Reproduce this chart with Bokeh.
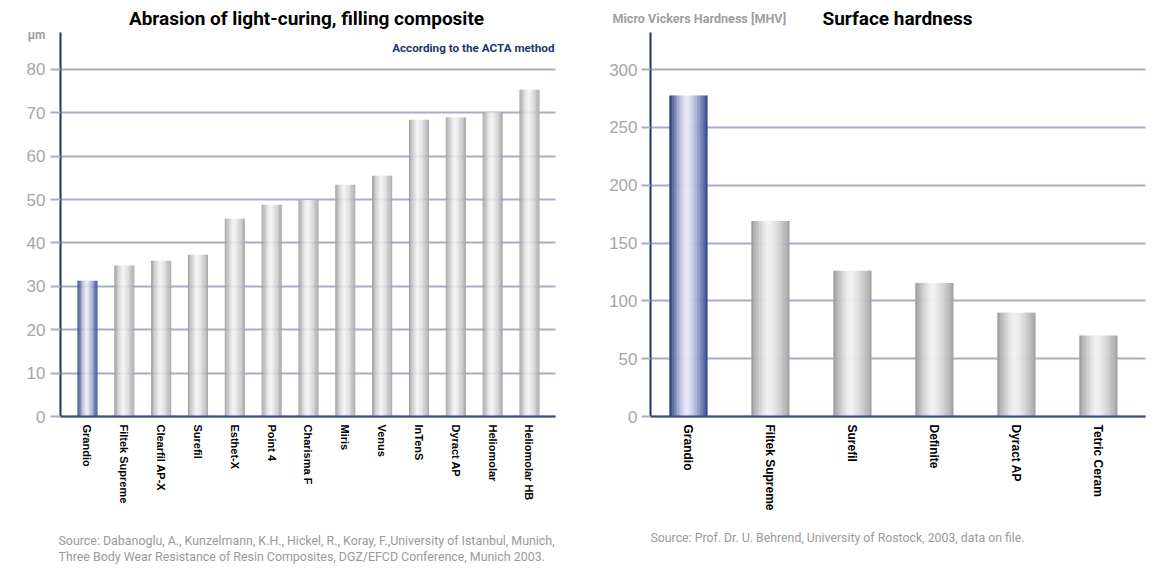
from bokeh.plotting import figure
from bokeh.models import Range1d, FixedTicker, Label, ColumnDataSource
from bokeh.layouts import row
from bokeh.embed import file_html
from bokeh.resources import INLINE

# ---------------- data ----------------
abrasion_names = ["Grandio", "Filtek Supreme", "Clearfil AP-X", "Surefil", "Esthet-X",
                  "Point 4", "Charisma F", "Miris", "Venus", "InTenS", "Dyract AP",
                  "Heliomolar", "Heliomolar HB"]
abrasion_values = [31.3, 34.8, 35.9, 37.3, 45.6, 48.8, 49.9, 53.4, 55.5, 68.4, 68.9, 70.1, 75.3]
abrasion_ticks = [0, 10, 20, 30, 40, 50, 60, 70, 80]

hardness_names = ["Grandio", "Filtek Supreme", "Surefil", "Definite", "Dyract AP", "Tetric Ceram"]
hardness_values = [277.5, 169.0, 126.0, 115.5, 89.8, 70.0]
hardness_ticks = [0, 50, 100, 150, 200, 250, 300]

# ---------------- style ----------------
COND = "Roboto"
SANS = "Liberation Sans"
GRID = "#aaacc8"
NAVY = "#1c3370"
TICKGRAY = "#a6a6a6"
N_STRIPES = 24
HEIGHT = 565
BASE_PX = 416      # pixel row of value 0
AXIS_TOP_PX = 32   # pixel row of top of value axis


def mix(c1, c2, t):
    a = [int(c1[i:i + 2], 16) for i in (1, 3, 5)]
    b = [int(c2[i:i + 2], 16) for i in (1, 3, 5)]
    return "#%02x%02x%02x" % tuple(round(a[j] + (b[j] - a[j]) * t) for j in range(3))


def palette(dark_l, light, dark_r, peak=0.45):
    cols = []
    for k in range(N_STRIPES):
        t = (k + 0.5) / N_STRIPES
        if t < peak:
            d = (peak - t) / peak
            cols.append(mix(light, dark_l, d ** 1.4))
        else:
            d = (t - peak) / (1 - peak)
            cols.append(mix(light, dark_r, d ** 1.4))
    return cols


GRAY_PAL = palette("#989898", "#f2f2f2", "#a2a2a2")
BLUE_PAL = palette("#1f357a", "#e8ebf7", "#2c438a")


def stripes(values, w, highlight=0):
    xs, tops, ws, cs = [], [], [], []
    sw = w / N_STRIPES
    for i, v in enumerate(values):
        pal = BLUE_PAL if i == highlight else GRAY_PAL
        for k in range(N_STRIPES):
            xs.append(i - w / 2 + (k + 0.5) * sw)
            tops.append(v)
            ws.append(sw * 1.2)
            cs.append(pal[k])
    return ColumnDataSource(dict(x=xs, top=tops, w=ws, c=cs))


class Chart:
    """Figure whose frame fills the whole canvas; axes are pinned with fixed_location."""

    def __init__(self, names, values, ticks, width, axis_px, frame_w, x_lo, x_hi, y_top,
                 bar_w, label_size, tick_out, standoff):
        self.ppx = frame_w / (x_hi - x_lo)
        self.ppy = (BASE_PX - AXIS_TOP_PX) / y_top
        self.axis_px = axis_px
        self.x_lo = x_lo
        xs = x_lo - axis_px / self.ppx
        xe = xs + width / self.ppx
        ys = -(HEIGHT - BASE_PX) / self.ppy
        ye = BASE_PX / self.ppy
        p = figure(width=width, height=HEIGHT, output_backend="svg", toolbar_location=None,
                   x_range=Range1d(xs, xe), y_range=Range1d(ys, ye), min_border=0)
        p.min_border_left = p.min_border_right = p.min_border_top = p.min_border_bottom = 0
        p.outline_line_color = None
        p.background_fill_color = "white"
        p.border_fill_color = "white"
        p.xgrid.grid_line_color = None
        p.ygrid.grid_line_color = GRID
        p.ygrid.grid_line_width = 2
        p.ygrid.ticker = FixedTicker(ticks=ticks)
        p.ygrid.bounds = (0, y_top)
        p.ygrid.cross_bounds = (x_lo, x_hi)

        src = stripes(values, bar_w)
        p.vbar(x="x", top="top", width="w", bottom=0, source=src,
               fill_color="c", line_color=None)

        ya = p.yaxis[0]
        ya.fixed_location = x_lo
        ya.bounds = (0, y_top)
        ya.ticker = FixedTicker(ticks=ticks)
        ya.axis_line_color = NAVY
        ya.axis_line_width = 2
        ya.major_tick_line_color = GRID
        ya.major_tick_line_width = 2
        ya.major_tick_in = 0
        ya.major_tick_out = tick_out
        ya.minor_tick_line_color = None
        ya.major_label_standoff = standoff
        ya.major_label_text_font = SANS
        ya.major_label_text_font_size = "17px"
        ya.major_label_text_color = TICKGRAY

        xa = p.xaxis[0]
        xa.fixed_location = 0
        xa.bounds = (x_lo, x_hi)
        xa.ticker = FixedTicker(ticks=list(range(len(names))))
        xa.major_label_overrides = {i: n for i, n in enumerate(names)}
        xa.major_label_orientation = "vertical"
        xa.axis_line_color = "#34477f"
        xa.axis_line_width = 2
        xa.major_tick_line_color = None
        xa.minor_tick_line_color = None
        xa.major_tick_out = 0
        xa.major_tick_in = 0
        xa.major_label_standoff = 8
        xa.major_label_text_font = SANS
        xa.major_label_text_font_style = "bold"
        xa.major_label_text_font_size = label_size
        xa.major_label_text_color = "black"
        self.p = p

    def text(self, px, py, text, size, color, style="normal", align="left", font=COND):
        """px: pixel column inside this figure, py: pixel row."""
        x = self.x_lo + (px - self.axis_px) / self.ppx
        y = (BASE_PX - py) / self.ppy
        self.p.add_layout(Label(x=x, y=y, text=text, text_font=font, text_font_size=size,
                                text_color=color, text_font_style=style, text_align=align,
                                text_baseline="middle"))


# ---------------- left chart ----------------
left = Chart(abrasion_names, abrasion_values, abrasion_ticks, 590, 60, 495,
             -0.733, 12.706, 88.5, 0.54, "11px", 10, 5)
left.text(306, 18, "Abrasion of light-curing, filling composite", "19px", "black", "bold", "center")
left.text(45, 34, "µm", "12px", "#a0a0a0", "bold", "right")
left.text(554, 47, "According to the ACTA method", "11.7px", "#1f3470", "bold", "right")
left.text(58, 540,
          "Source: Dabanoglu, A., Kunzelmann, K.H., Hickel, R., Koray, F.,University of Istanbul, Munich,",
          "12.4px", "#9a9a9a")
left.text(58, 556,
          "Three Body Wear Resistance of Resin Composites, DGZ/EFCD Conference, Munich 2003.",
          "12.4px", "#9a9a9a")

# ---------------- right chart ----------------
right = Chart(hardness_names, hardness_values, hardness_ticks, 577, 60, 495,
              -0.463, 5.574, 332.0, 0.463, "12px", 9, 4)
right.text(307, 18, "Surface hardness", "19px", "black", "bold", "center")
right.text(22, 18, "Micro Vickers Hardness [MHV]", "12.6px", "#a0a0a0", "bold")
right.text(60, 537, "Source: Prof. Dr. U. Behrend, University of Rostock, 2003, data on file.",
           "12.3px", "#9a9a9a")

layout = row(left.p, right.p)
open("out.html", "w").write(file_html(layout, INLINE))
